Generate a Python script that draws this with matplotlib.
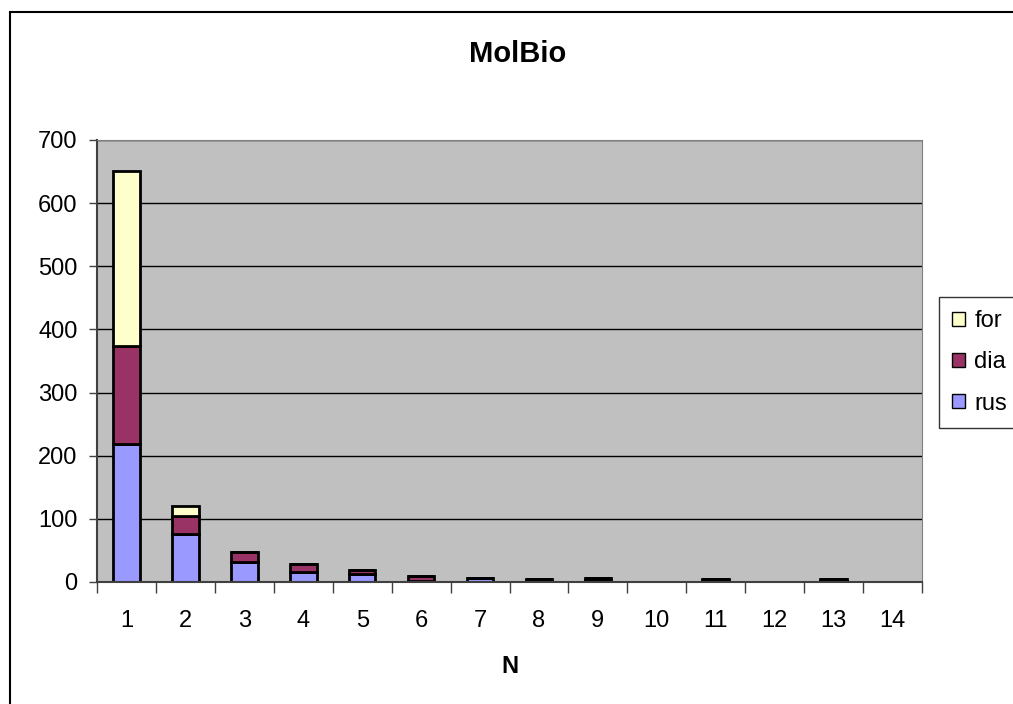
import matplotlib
matplotlib.use("Agg")
import matplotlib.pyplot as plt
from matplotlib.patches import Rectangle
import numpy as np

categories = ["1", "2", "3", "4", "5", "6", "7", "8", "9", "10", "11", "12", "13", "14"]
rus = [218, 76, 32, 16, 12, 1, 7, 2, 3, 0, 2, 0, 2, 0]
dia = [156, 28, 15, 13, 7, 9, 0, 2, 3, 0, 2, 0, 2, 0]
fr = [277, 17, 0, 0, 0, 0, 0, 0, 1, 0, 0, 0, 0, 0]
yticks = [0, 100, 200, 300, 400, 500, 600, 700]

plt.rcParams['font.family'] = ['Liberation Sans', 'DejaVu Sans']

W, H = 1013, 704
fig = plt.figure(figsize=(W / 100, H / 100), dpi=100)
fig.patches.append(Rectangle((10 / W, -0.2), 1.2, 1.2 - 12 / H, transform=fig.transFigure,
                             fill=False, edgecolor='black', linewidth=1.5))
ax = fig.add_axes([97 / W, 1 - 582 / H, (922 - 97) / W, (582 - 140) / H])
ax.set_facecolor('#C0C0C0')

x = np.arange(len(categories))
bw = 0.45
ek = dict(edgecolor='black', linewidth=2)
b1 = ax.bar(x, rus, bw, color='#9999FF', label='rus', **ek)
b2 = ax.bar(x, dia, bw, bottom=rus, color='#993366', label='dia', **ek)
b3 = ax.bar(x, fr, bw, bottom=np.array(rus) + np.array(dia), color='#FFFFCC', label='for', **ek)

ax.set_xlim(-0.5, len(categories) - 0.5)
ax.set_ylim(0, 700)
ax.set_yticks(yticks)
ax.set_yticklabels([str(v) for v in yticks], fontsize=17)
ax.yaxis.grid(True, color='black', linewidth=1)
ax.set_axisbelow(True)
ax.set_xticks(np.arange(-0.5, len(categories), 1.0))
ax.set_xticklabels([])
ax.set_xticks(x, minor=True)
ax.set_xticklabels(categories, minor=True, fontsize=17)
ax.tick_params(axis='x', which='minor', length=0, pad=20)
ax.tick_params(axis='x', which='major', length=8, width=1, color='#404040')
ax.tick_params(axis='y', length=6, width=1, color='#404040', pad=8)
for s in ['top', 'right']:
    ax.spines[s].set_color('#808080')
for s in ['left', 'bottom']:
    ax.spines[s].set_color('#404040')
    ax.spines[s].set_linewidth(1.5)

ax.set_xlabel('N', fontsize=17, fontweight='bold', labelpad=17)
fig.text(518 / W, 1 - 54 / H, 'MolBio', fontsize=21, fontweight='bold', ha='center', va='center')

leg = fig.legend(handles=[b3, b2, b1], labels=['for', 'dia', 'rus'],
                 loc='upper left', bbox_to_anchor=(939 / W, 1 - 297 / H),
                 fontsize=17, frameon=True, fancybox=False, edgecolor='black',
                 handlelength=0.55, handleheight=0.55, handletextpad=0.4,
                 labelspacing=0.82, borderpad=0.55, borderaxespad=0)
leg.get_frame().set_linewidth(1)
for h in leg.legend_handles:
    h.set_linewidth(1)

fig.savefig('out.png', dpi=100)
